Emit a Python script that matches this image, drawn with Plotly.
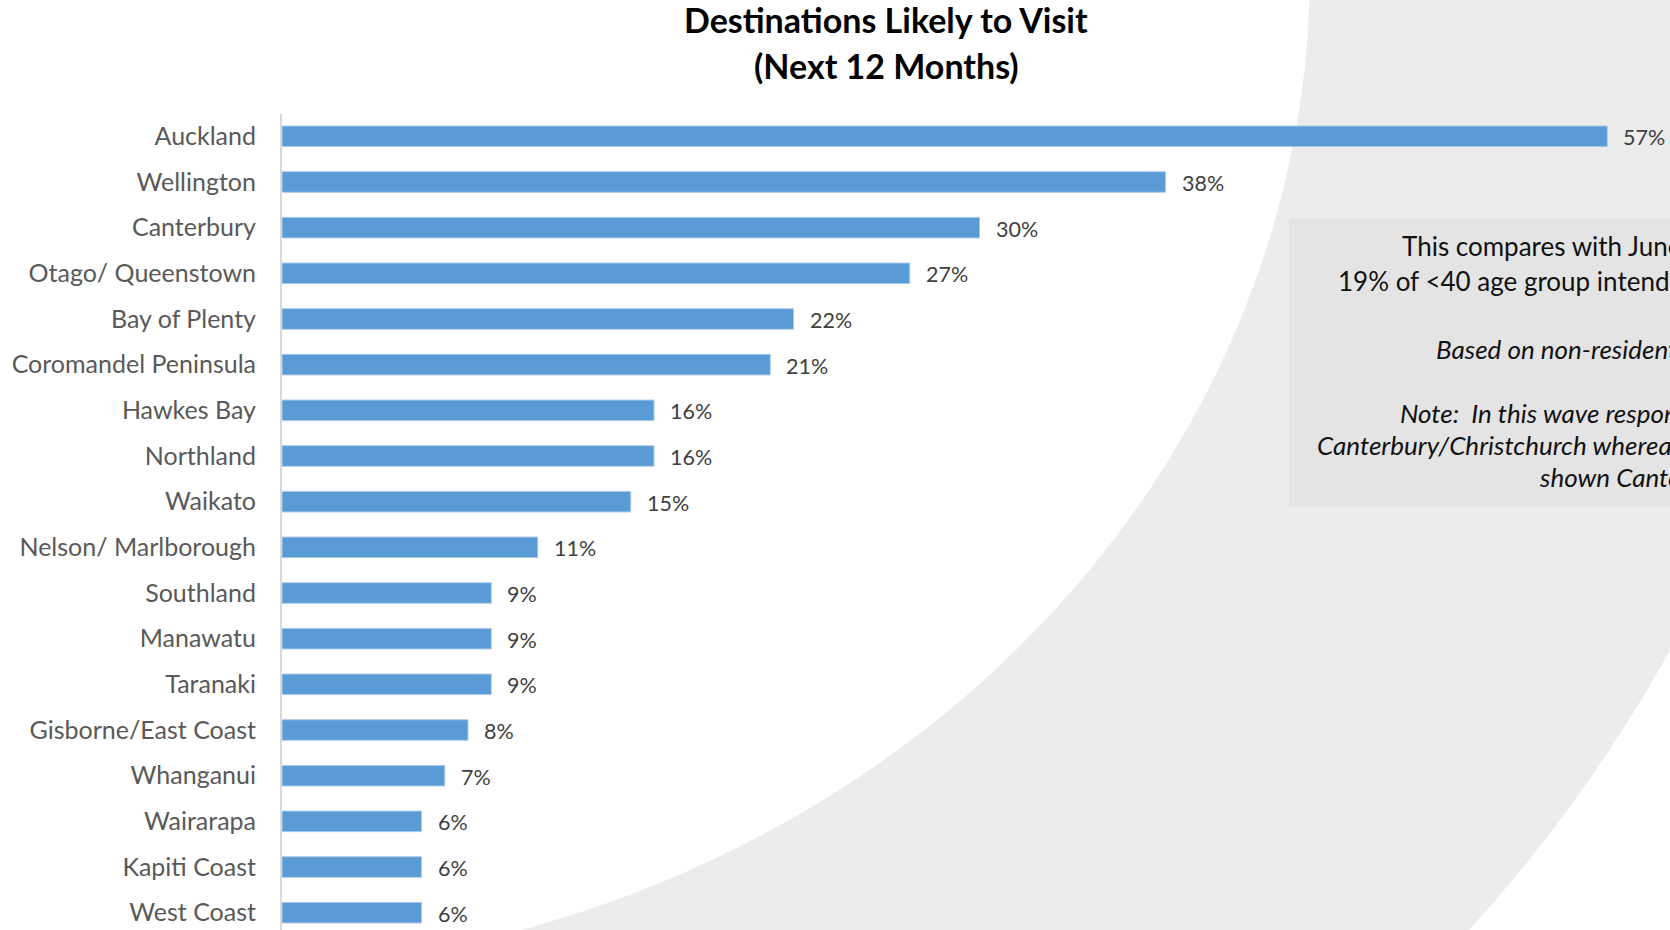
import plotly.graph_objects as go

# Survey results: share of respondents likely to visit each destination
destinations = [
    "Auckland", "Wellington", "Canterbury", "Otago/ Queenstown", "Bay of Plenty",
    "Coromandel Peninsula", "Hawkes Bay", "Northland", "Waikato", "Nelson/ Marlborough",
    "Southland", "Manawatu", "Taranaki", "Gisborne/East Coast", "Whanganui",
    "Wairarapa", "Kapiti Coast", "West Coast",
]
likely_pct = [57, 38, 30, 27, 22, 21, 16, 16, 15, 11, 9, 9, 9, 8, 7, 6, 6, 6]

title_lines = ["Destinations Likely to Visit", "(Next 12 Months)"]

note_lines = [
    ("This compares with June", False),
    ("19% of &lt;40 age group intending", False),
    ("Based on non-resident responses", True),
    ("Note:&nbsp; In this wave respondents", True),
    ("Canterbury/Christchurch whereas", True),
    ("shown Canterbury", True),
]

W, H = 1670, 930
ML, MT = 282, 114
PW, PH = W - ML, H - MT
FONT = "Lato"


def px_x(x):
    return (x - ML) / PW


def px_y(y):
    return (H - y) / PH


fig = go.Figure()
fig.add_trace(go.Bar(
    y=destinations,
    x=likely_pct,
    orientation="h",
    width=0.45,
    marker=dict(color="#5B9BD5", line=dict(color="#A9CBEA", width=1)),
    hoverinfo="x+y",
))

# value labels just past the end of each bar
annotations = []
for name, v in zip(destinations, likely_pct):
    annotations.append(dict(
        x=v, y=name, xref="x", yref="y", text=f"{v}%", showarrow=False,
        xanchor="left", yanchor="middle", xshift=14, yshift=-1,
        font=dict(family=FONT, size=21.5, color="#404040"),
    ))

# two-line bold heading
for i, line in enumerate(title_lines):
    annotations.append(dict(
        x=px_x(886), y=px_y(20 + 45 * i), xref="paper", yref="paper",
        text=f"<b>{line}</b>", showarrow=False, xanchor="center", yanchor="middle",
        font=dict(family=FONT, size=34, color="#000000"),
    ))

# commentary panel text
note_pos = [(1400, 246), (1336, 281), (1434, 349), (1398, 413), (1315, 445), (1537, 477)]
for (txt, ital), (lx, ly) in zip(note_lines, note_pos):
    annotations.append(dict(
        x=px_x(lx), y=px_y(ly), xref="paper", yref="paper",
        text=f"<i>{txt}</i>" if ital else txt, showarrow=False,
        xanchor="left", yanchor="middle",
        font=dict(family=FONT, size=26, color="#111111"),
    ))

# decorative backdrop: grey elliptical band behind the chart plus the commentary panel
cx, cy = 200, -30
ax_in, by_in = 1110, 1003
ax_out, by_out = 1648, 1505
shapes = [
    dict(type="circle", xref="paper", yref="paper", layer="below",
         x0=px_x(cx - ax_out), x1=px_x(cx + ax_out), y0=px_y(cy + by_out), y1=px_y(cy - by_out),
         fillcolor="#ECECEC", line=dict(width=0)),
    dict(type="circle", xref="paper", yref="paper", layer="below",
         x0=px_x(cx - ax_in), x1=px_x(cx + ax_in), y0=px_y(cy + by_in), y1=px_y(cy - by_in),
         fillcolor="#FFFFFF", line=dict(width=0)),
    dict(type="rect", xref="paper", yref="paper", layer="below",
         x0=px_x(1289), x1=px_x(1700), y0=px_y(506), y1=px_y(218),
         fillcolor="#E4E4E4", line=dict(width=0)),
]

fig.update_layout(
    width=W, height=H,
    margin=dict(l=ML, r=0, t=MT, b=0, pad=0),
    paper_bgcolor="#FFFFFF",
    plot_bgcolor="rgba(0,0,0,0)",
    showlegend=False,
    xaxis=dict(range=[0, PW / 23.25], visible=False, fixedrange=True),
    yaxis=dict(
        type="category",
        range=[(H - 136.3) / 45.67, (MT - 136.3) / 45.67],
        showline=True, linecolor="#D9D9D9", linewidth=2,
        showgrid=False, zeroline=False,
        ticks="outside", ticklen=19, tickcolor="rgba(0,0,0,0)",
        tickfont=dict(family=FONT, size=25, color="#595959"),
        fixedrange=True,
    ),
    annotations=annotations,
    shapes=shapes,
)

fig.write_html("out.html")
